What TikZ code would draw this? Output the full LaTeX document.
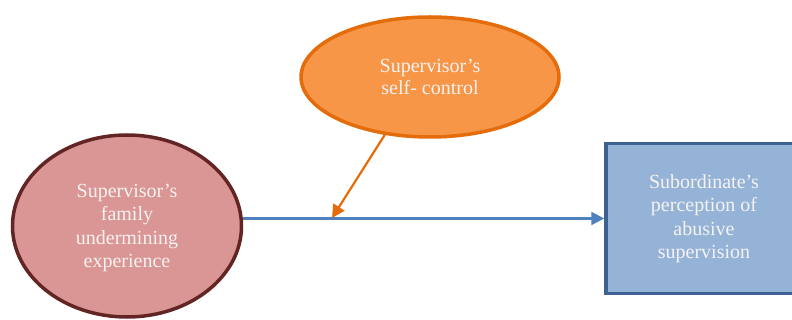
\documentclass[tikz,border=0pt]{standalone}
\usepackage{fontspec}
\setmainfont{Liberation Serif}
\usetikzlibrary{shapes.geometric,arrows.meta}
\definecolor{famfill}{HTML}{D99694}
\definecolor{famline}{HTML}{632523}
\definecolor{ctlfill}{HTML}{F79646}
\definecolor{ctlline}{HTML}{E46C0A}
\definecolor{subfill}{HTML}{95B3D7}
\definecolor{subline}{HTML}{3D6192}
\definecolor{pathblue}{HTML}{4F81BD}
\definecolor{labeltext}{HTML}{F6F2F2}
\begin{document}
\begin{tikzpicture}[x=1pt,y=-1pt,
  construct/.style={align=center,text=labeltext,inner sep=0pt,line width=3.5pt,
    font=\fontsize{20}{23.5}\selectfont},
  oval/.style={construct,ellipse},
  link/.style={line width=2.2pt,-{Triangle[length=13pt,width=13pt]}}]
  \useasboundingbox (0,0) rectangle (792,320);
  % predictor
  \node[oval,draw=famline,fill=famfill,minimum width=229pt,minimum height=182pt]
    (fam) at (127,226) {\\[-6pt]Supervisor’s\\family\\undermining\\experience};
  % moderator
  \node[oval,draw=ctlline,fill=ctlfill,minimum width=258pt,minimum height=120pt,
    font=\fontsize{20}{22}\selectfont]
    (ctl) at (430,77) {Supervisor’s\\self- control};
  % outcome
  \node[construct,draw=subline,fill=subfill,rectangle,minimum width=196pt,minimum height=150pt]
    (sub) at (704,218.5) {Subordinate’s\\perception of\\abusive\\supervision};
  % paths
  \coordinate (mod) at (332,218);
  \draw[link,draw=pathblue,fill=pathblue] (fam.east |- sub.west) -- (sub.west);
  \draw[link,draw=ctlline,fill=ctlline] (ctl.232) -- (mod);
\end{tikzpicture}
\end{document}
